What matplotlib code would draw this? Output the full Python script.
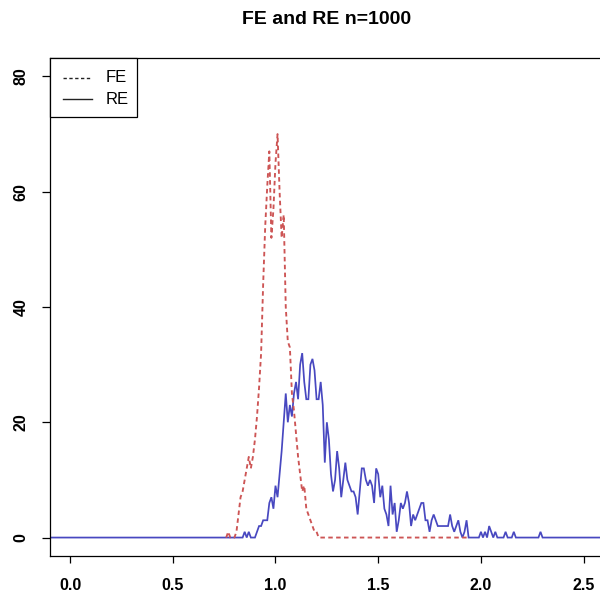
import numpy as np
import matplotlib
matplotlib.use("Agg")
import matplotlib.pyplot as plt
from matplotlib.lines import Line2D
from matplotlib.patches import Rectangle

# ---------------- data (counts per 0.01-wide bin) ----------------
bin_width = 0.01

fe_start = 0.76
fe_counts = [0, 1, 0, 0, 0, 1, 4, 7, 8, 10,          # 0.76-0.85
             12, 14, 12, 14, 17, 21, 26, 32, 44, 54,  # 0.86-0.95
             61, 67, 52, 57, 65, 70, 60, 52, 56, 40,  # 0.96-1.05
             34, 33, 25, 22, 18, 14, 11, 8, 9, 5,     # 1.06-1.15
             4, 3, 2, 1, 1]                           # 1.16-1.20
fe_end = 1.94          # FE series continues flat at 0 up to here

re_start = 0.84
re_counts = [0, 1, 0, 1, 0, 0, 0, 1, 2, 2,            # 0.84-0.93
             3, 3, 3, 6, 7, 5, 9, 7, 11, 15,          # 0.94-1.03
             20, 25, 20, 23, 21, 25, 27, 24, 30, 32,  # 1.04-1.13
             27, 24, 24, 30, 31, 29, 24, 24, 27, 23,  # 1.14-1.23
             13, 20, 17, 11, 8, 10, 15, 12, 7, 10,    # 1.24-1.33
             13, 10, 9, 8, 8, 7, 4, 8, 12, 12,        # 1.34-1.43
             10, 9, 10, 9, 6, 12, 11, 7, 9, 5,        # 1.44-1.53
             4, 2, 9, 4, 6, 1, 3, 6, 5, 6,            # 1.54-1.63
             8, 6, 2, 4, 3, 4, 5, 6, 6, 3,            # 1.64-1.73
             3, 1, 3, 4, 3, 2, 2, 2, 2, 2,            # 1.74-1.83
             2, 4, 2, 1, 2, 3, 1, 0, 1, 3,            # 1.84-1.93
             0, 0, 0, 0, 0, 0, 1, 0, 1, 0,            # 1.94-2.03
             2, 1, 0, 1, 0, 0, 0, 0, 1, 0,            # 2.04-2.13
             0, 0, 1, 0, 0, 0, 0, 0, 0, 0,            # 2.14-2.23
             0, 0, 0, 0, 0, 1, 0]                     # 2.24-2.30
re_range = (-0.3, 2.8)  # RE series is flat at 0 outside the listed bins

x_ticks = [0.0, 0.5, 1.0, 1.5, 2.0, 2.5]
x_tick_labels = ["0.0", "0.5", "1.0", "1.5", "2.0", "2.5"]
y_ticks = [0, 20, 40, 60, 80]
y_tick_labels = ["0", "20", "40", "60", "80"]
title = "FE and RE n=1000"
legend_labels = ["FE", "RE"]

# ---------------- build series ----------------
fe_x = np.round(fe_start + bin_width * np.arange(len(fe_counts)), 2)
n_fe_tail = int(round((fe_end - fe_x[-1]) / bin_width))
fe_x = np.concatenate([fe_x, np.round(fe_x[-1] + bin_width * np.arange(1, n_fe_tail + 1), 2)])
fe_y = np.concatenate([np.array(fe_counts, float), np.zeros(n_fe_tail)])

re_x_core = np.round(re_start + bin_width * np.arange(len(re_counts)), 2)
n_left = int(round((re_start - re_range[0]) / bin_width))
n_right = int(round((re_range[1] - re_x_core[-1]) / bin_width))
re_x = np.concatenate([np.round(re_range[0] + bin_width * np.arange(n_left), 2),
                       re_x_core,
                       np.round(re_x_core[-1] + bin_width * np.arange(1, n_right + 1), 2)])
re_y = np.concatenate([np.zeros(n_left), np.array(re_counts, float), np.zeros(n_right)])

# ---------------- figure ----------------
plt.rcParams['font.family'] = ['Liberation Sans', 'DejaVu Sans']
W, H = 600, 595
fig = plt.figure(figsize=(W / 100, H / 100), dpi=100)

ax_left, ax_right, ax_top, ax_bottom = 49.5, 604.2, 58.0, 556.0
ax = fig.add_axes([ax_left / W, 1 - ax_bottom / H,
                   (ax_right - ax_left) / W, (ax_bottom - ax_top) / H])

fe_color = "#CD5555"
re_color = "#4848C0"

ax.plot(re_x, re_y, color=re_color, lw=1.25, solid_joinstyle='miter')
ax.plot(fe_x, fe_y, color=fe_color, lw=1.35, linestyle=(0, (2.4, 1.8)))

ax.set_xlim(-0.1, 2.6)
ax.set_ylim(-3.2, 83.2)

ax.set_xticks(x_ticks)
ax.set_xticklabels(x_tick_labels, fontsize=11.5, fontweight='bold')
ax.set_yticks(y_ticks)
ax.set_yticklabels(y_tick_labels, fontsize=11.5, fontweight='bold',
                   rotation=90, va='center')
ax.tick_params(axis='x', direction='out', length=5, width=0.9, pad=10.5)
ax.tick_params(axis='y', direction='out', length=5.5, width=0.9, pad=9.5)
for s in ax.spines.values():
    s.set_linewidth(0.9)
    s.set_color('black')

fig.text(((ax_left + ax_right) / 2) / W, 1 - 20 / H, title,
         ha='center', va='center', fontsize=14, fontweight='bold')

# ---------------- legend (R style box, upper-left) ----------------
lg_left, lg_right, lg_top, lg_bottom = ax_left, 137.0, ax_top, 117.0
fig.patches.append(Rectangle((lg_left / W, 1 - lg_bottom / H),
                             (lg_right - lg_left) / W, (lg_bottom - lg_top) / H,
                             transform=fig.transFigure, facecolor='white',
                             edgecolor='black', lw=0.9, zorder=5))
styles = [(0, (2.4, 1.8)), '-']
rows = [78.0, 99.0]
for lab, ls, yy in zip(legend_labels, styles, rows):
    fig.lines.append(Line2D([63 / W, 92 / W], [1 - yy / H, 1 - yy / H],
                            transform=fig.transFigure, color='#222222',
                            lw=1.0, linestyle=ls, zorder=6))
    fig.text(106 / W, 1 - yy / H, lab, ha='left', va='center',
             fontsize=12, zorder=6)

fig.savefig("out.png", dpi=100)
